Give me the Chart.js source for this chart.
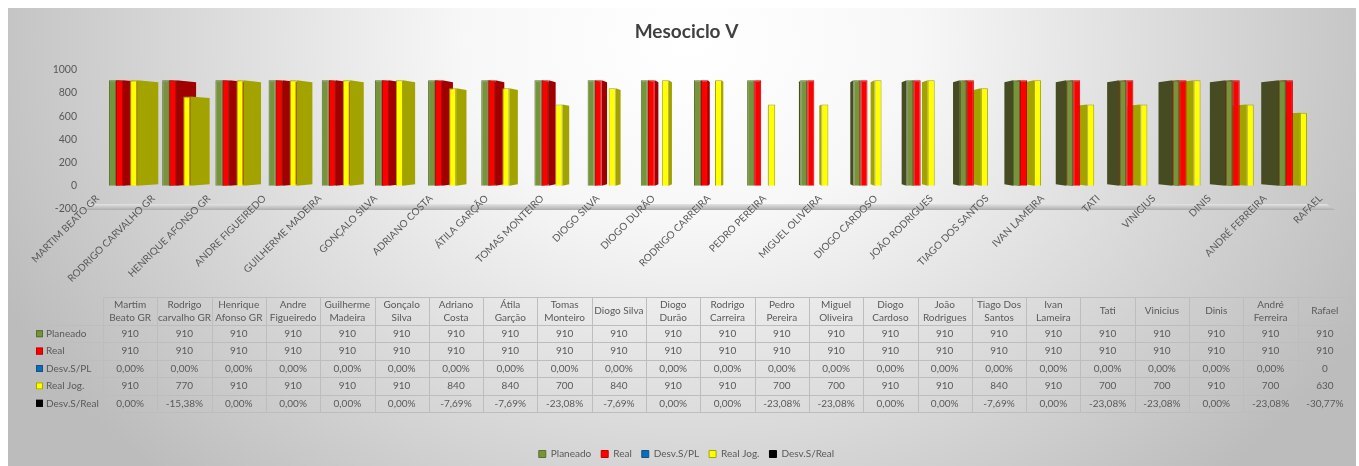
<!DOCTYPE html>
<html>
<head>
<meta charset="utf-8">
<title>Mesociclo V</title>
<script src="https://cdn.jsdelivr.net/npm/chart.js@4.4.1/dist/chart.umd.min.js"></script>
<style>
  html, body { margin: 0; padding: 0; background: #fff; }
  #wrap { width: 1359px; height: 466px; }
</style>
</head>
<body>
<div id="wrap"><canvas id="chart" width="1359" height="466"></canvas></div>
<script>
// nomes no eixo do gráfico
const playerNames = [
  'MARTIM BEATO GR', 'RODRIGO CARVALHO GR', 'HENRIQUE AFONSO GR', 'ANDRE FIGUEIREDO',
  'GUILHERME MADEIRA', 'GONÇALO SILVA', 'ADRIANO COSTA', 'ÁTILA GARÇÃO', 'TOMAS MONTEIRO',
  'DIOGO SILVA', 'DIOGO DURÃO', 'RODRIGO CARREIRA', 'PEDRO PEREIRA', 'MIGUEL OLIVEIRA',
  'DIOGO CARDOSO', 'JOÃO RODRIGUES', 'TIAGO DOS SANTOS', 'IVAN LAMEIRA', 'TATI',
  'VINICIUS', 'DINIS', 'ANDRÉ FERREIRA', 'RAFAEL'
];
// cabeçalhos da tabela de dados
const tableHeaders = [
  ['Martim', 'Beato GR'], ['Rodrigo', 'carvalho GR'], ['Henrique', 'Afonso GR'], ['Andre', 'Figueiredo'],
  ['Guilherme', 'Madeira'], ['Gonçalo', 'Silva'], ['Adriano', 'Costa'], ['Átila', 'Garção'],
  ['Tomas', 'Monteiro'], ['Diogo Silva'], ['Diogo', 'Durão'], ['Rodrigo', 'Carreira'],
  ['Pedro', 'Pereira'], ['Miguel', 'Oliveira'], ['Diogo', 'Cardoso'], ['João', 'Rodrigues'],
  ['Tiago Dos', 'Santos'], ['Ivan', 'Lameira'], ['Tati'], ['Vinicius'], ['Dinis'],
  ['André', 'Ferreira'], ['Rafael']
];

const planeado = [910, 910, 910, 910, 910, 910, 910, 910, 910, 910, 910, 910, 910, 910, 910, 910, 910, 910, 910, 910, 910, 910, 910];
const real     = [910, 910, 910, 910, 910, 910, 910, 910, 910, 910, 910, 910, 910, 910, 910, 910, 910, 910, 910, 910, 910, 910, 910];
const desvPL   = [0, 0, 0, 0, 0, 0, 0, 0, 0, 0, 0, 0, 0, 0, 0, 0, 0, 0, 0, 0, 0, 0, 0];
const realJog  = [910, 770, 910, 910, 910, 910, 840, 840, 700, 840, 910, 910, 700, 700, 910, 910, 840, 910, 700, 700, 910, 700, 630];
const desvReal = [0, -0.1538, 0, 0, 0, 0, -0.0769, -0.0769, -0.2308, -0.0769, 0, 0, -0.2308, -0.2308, 0, 0, -0.0769, 0, -0.2308, -0.2308, 0, -0.2308, -0.3077];
// a última célula de Desv.S/PL aparece sem formato (0)
const plainCells = [22];
const yTicks = [-200, 0, 200, 400, 600, 800, 1000];

const TXT = '#595959';
const FONT = 'Lato';

// ponto de fuga para o efeito 3D
const VX = 760, VY = 140, DEPTH = 0.034;

const pctText = v => (v * 100).toFixed(2).replace('.', ',') + '%';
const pct = (v, i) => plainCells.includes(i) ? String(v) : pctText(v);
const num = v => String(v);

const tableRows = [
  { ds: 0, values: planeado, fmt: num },
  { ds: 1, values: real, fmt: num },
  { ds: 2, values: desvPL, fmt: pct },
  { ds: 3, values: realJog, fmt: num },
  { ds: 4, values: desvReal, fmt: pctText }
];

// fundo cinzento/branco como no Excel + chão do gráfico 3D
const frameBg = {
  id: 'frameBg',
  beforeDraw(chart) {
    const { ctx, width, height, chartArea, scales } = chart;
    ctx.save();
    ctx.fillStyle = '#fff';
    ctx.fillRect(0, 0, width, height);
    ctx.beginPath();
    ctx.rect(8, 8, width - 11, height - 8);
    ctx.clip();
    ctx.translate(690, 40);
    ctx.scale(1, 0.8);
    const g = ctx.createRadialGradient(0, 0, 0, 0, 0, 760);
    g.addColorStop(0, '#ffffff');
    g.addColorStop(0.3, '#f7f7f7');
    g.addColorStop(1, '#bcbcbc');
    ctx.fillStyle = g;
    ctx.fillRect(-800, -100, 1600, 1000);
    ctx.restore();

    const yFloor = scales.y.getPixelForValue(-200);
    ctx.save();
    const fg = ctx.createLinearGradient(0, yFloor - 5, 0, yFloor + 2);
    fg.addColorStop(0, '#e4e4e4');
    fg.addColorStop(1, '#a3a3a3');
    ctx.fillStyle = fg;
    ctx.beginPath();
    ctx.moveTo(chartArea.left - 18, yFloor + 1);
    ctx.lineTo(chartArea.left - 12, yFloor - 5);
    ctx.lineTo(chartArea.right + 4, yFloor - 5);
    ctx.lineTo(chartArea.right + 12, yFloor + 1);
    ctx.closePath();
    ctx.fill();
    ctx.restore();
  }
};

// faces laterais das colunas
const depth3d = {
  id: 'depth3d',
  beforeDatasetsDraw(chart) {
    const { ctx } = chart;
    const faces = [];
    chart.data.datasets.forEach((ds, di) => {
      chart.getDatasetMeta(di).data.forEach(bar => {
        const { x, y, base, width } = bar.getProps(['x', 'y', 'base', 'width'], true);
        const top = Math.min(y, base), bottom = Math.max(y, base);
        if (bottom - top < 1) return;
        const ex = x < VX ? x + width / 2 : x - width / 2;
        faces.push({ ex, top, bottom, color: ds.sideColor, dist: Math.abs(x - VX) });
      });
    });
    faces.sort((a, b) => b.dist - a.dist);
    ctx.save();
    faces.forEach(f => {
      const dx = DEPTH * (VX - f.ex);
      ctx.fillStyle = f.color;
      ctx.beginPath();
      ctx.moveTo(f.ex, f.top);
      ctx.lineTo(f.ex + dx, f.top + DEPTH * (VY - f.top));
      ctx.lineTo(f.ex + dx, f.bottom + DEPTH * (VY - f.bottom));
      ctx.lineTo(f.ex, f.bottom);
      ctx.closePath();
      ctx.fill();
    });
    ctx.restore();
  }
};

// tabela de dados por baixo do gráfico
const dataTable = {
  id: 'dataTable',
  afterDraw(chart) {
    const { ctx } = chart;
    const left = 103, right = 1352, top = 297, headH = 28, rowH = 17.4, labelLeft = 33;
    const colW = (right - left) / tableHeaders.length;
    const bodyTop = top + headH;
    const bottom = bodyTop + rowH * tableRows.length;
    ctx.save();
    ctx.strokeStyle = '#bdbdbd';
    ctx.lineWidth = 1;
    ctx.beginPath();
    ctx.moveTo(left, Math.round(top) + 0.5);
    ctx.lineTo(right, Math.round(top) + 0.5);
    for (let r = 0; r <= tableRows.length; r++) {
      const y = Math.round(bodyTop + r * rowH) + 0.5;
      ctx.moveTo(labelLeft, y);
      ctx.lineTo(right, y);
    }
    ctx.moveTo(labelLeft + 0.5, bodyTop);
    ctx.lineTo(labelLeft + 0.5, bottom);
    for (let c = 0; c <= tableHeaders.length; c++) {
      const x = Math.round(left + c * colW) + 0.5;
      ctx.moveTo(x, top);
      ctx.lineTo(x, bottom);
    }
    ctx.stroke();

    ctx.font = '10px ' + FONT;
    ctx.fillStyle = TXT;
    ctx.textAlign = 'center';
    ctx.textBaseline = 'middle';
    tableHeaders.forEach((lines, c) => {
      const cx = left + (c + 0.5) * colW;
      if (lines.length === 1) {
        ctx.fillText(lines[0], cx, top + headH / 2);
      } else {
        ctx.fillText(lines[0], cx, top + 8);
        ctx.fillText(lines[1], cx, top + 20.5);
      }
    });

    tableRows.forEach((row, r) => {
      const cy = bodyTop + (r + 0.5) * rowH;
      const ds = chart.data.datasets[row.ds];
      ctx.fillStyle = ds.backgroundColor;
      ctx.strokeStyle = ds.borderColor;
      ctx.fillRect(labelLeft + 3, cy - 3.5, 7, 7);
      ctx.strokeRect(labelLeft + 3.5, cy - 3, 6, 6);
      ctx.fillStyle = TXT;
      ctx.textAlign = 'left';
      ctx.fillText(ds.label, labelLeft + 13, cy);
      ctx.textAlign = 'center';
      row.values.forEach((v, c) => {
        ctx.fillText(row.fmt(v, c), left + (c + 0.5) * colW, cy);
      });
    });
    ctx.restore();
  }
};

new Chart(document.getElementById('chart'), {
  type: 'bar',
  data: {
    labels: playerNames,
    datasets: [
      { label: 'Planeado', data: planeado, backgroundColor: '#77933c', borderColor: '#56702a', borderWidth: 1, sideColor: '#464b22' },
      { label: 'Real', data: real, backgroundColor: '#ff0000', borderColor: '#c00000', borderWidth: 1, sideColor: '#a00000' },
      { label: 'Desv.S/PL', data: desvPL, backgroundColor: '#0070c0', borderColor: '#1f4e79', borderWidth: 1, sideColor: '#004a80' },
      { label: 'Real Jog.', data: realJog, backgroundColor: '#ffff00', borderColor: '#a5a500', borderWidth: 1, sideColor: '#a3a300' },
      { label: 'Desv.S/Real', data: desvReal, backgroundColor: '#000000', borderColor: '#000000', borderWidth: 1, sideColor: '#000000' }
    ]
  },
  options: {
    responsive: false,
    animation: false,
    datasets: { bar: { categoryPercentage: 0.66, barPercentage: 1 } },
    layout: { padding: { left: 50, right: 36, top: 8, bottom: -3 } },
    plugins: {
      title: {
        display: true,
        text: 'Mesociclo V',
        color: '#404040',
        font: { family: FONT, size: 19, weight: 'bold' },
        padding: { top: 12, bottom: 27 }
      },
      legend: {
        position: 'bottom',
        labels: {
          color: TXT,
          font: { family: FONT, size: 10 },
          boxWidth: 7,
          boxHeight: 7,
          padding: 10
        }
      },
      tooltip: { enabled: false }
    },
    scales: {
      x: { display: false, offset: true },
      x2: {
        type: 'category',
        position: 'bottom',
        offset: false,
        grid: { display: false, drawTicks: false },
        border: { display: false },
        ticks: {
          autoSkip: false,
          minRotation: 45,
          maxRotation: 45,
          mirror: true,
          padding: 8,
          labelOffset: 6,
          color: TXT,
          font: { family: FONT, size: 10 }
        },
        afterFit(scale) { scale.height = 230; }
      },
      y: {
        min: -200,
        max: 1000,
        grid: { display: false, drawTicks: false },
        border: { display: false },
        afterBuildTicks(scale) { scale.ticks = yTicks.map(v => ({ value: v })); },
        ticks: {
          padding: 23,
          color: TXT,
          font: { family: FONT, size: 10.5 },
          callback: v => String(v)
        },
        afterFit(scale) { scale.width = 50; }
      }
    }
  },
  plugins: [frameBg, depth3d, dataTable]
});
</script>
</body>
</html>
